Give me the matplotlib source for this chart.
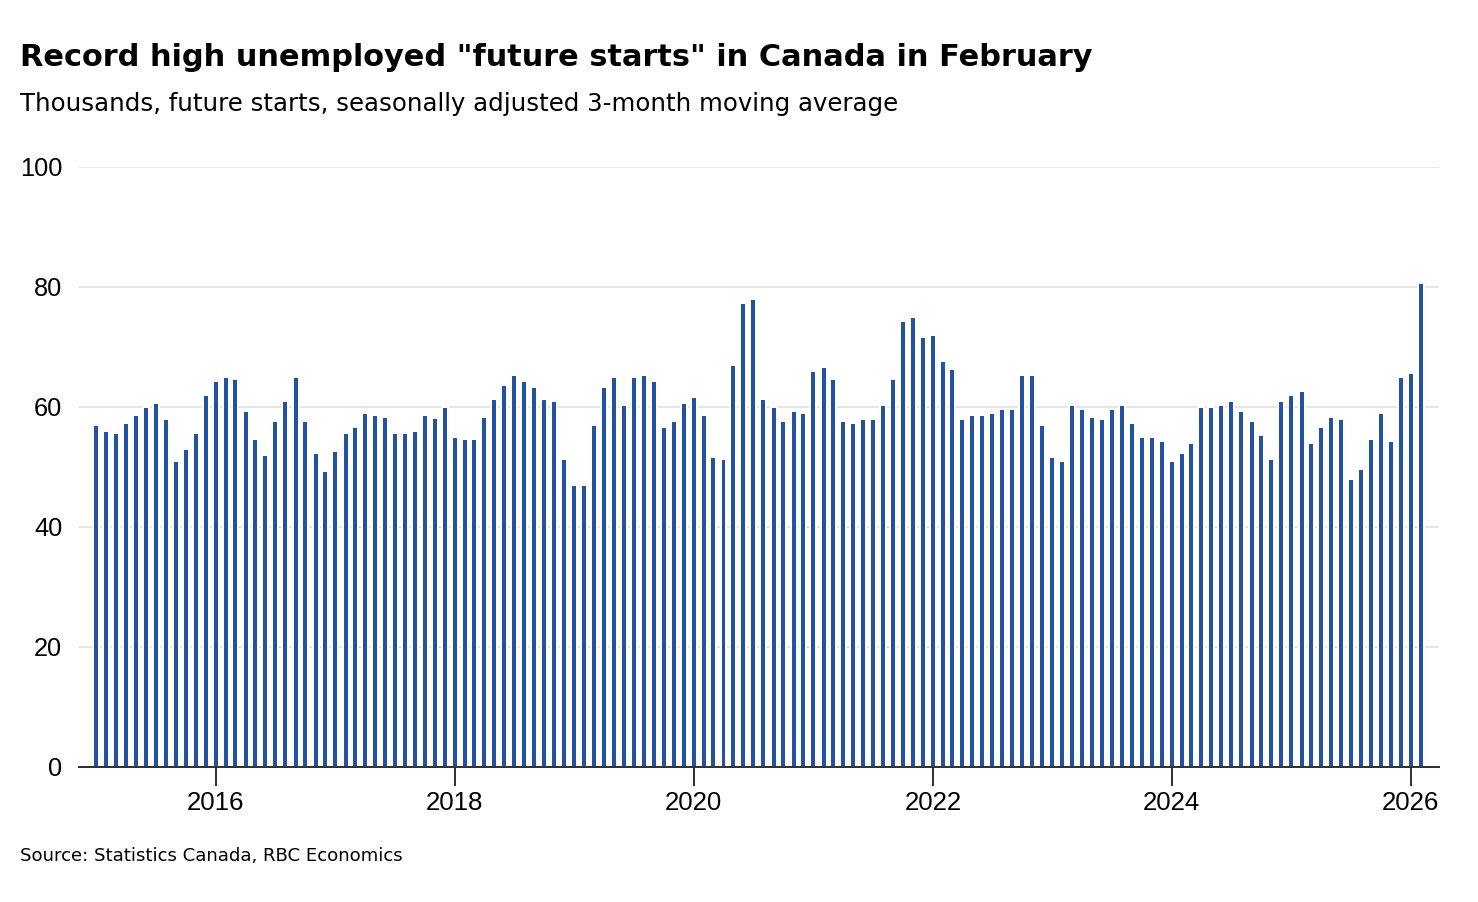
import matplotlib
matplotlib.use("Agg")
import matplotlib.pyplot as plt
import matplotlib.dates as mdates
import pandas as pd

plt.rcParams["font.family"] = ["Liberation Sans", "DejaVu Sans"]

# monthly, Jan 2015 .. Feb 2026 (thousands, 3-month moving average)
months = pd.date_range("2015-01-01", "2026-02-01", freq="MS")
future_starts = [
    # 2015
    56.8, 55.8, 55.4, 57.1, 58.4, 59.8, 60.4, 57.8, 50.8, 52.8, 55.4, 61.8,
    # 2016
    64.1, 64.8, 64.4, 59.1, 54.4, 51.8, 57.4, 60.8, 64.8, 57.4, 52.1, 49.1,
    # 2017
    52.4, 55.4, 56.4, 58.8, 58.4, 58.1, 55.4, 55.4, 55.8, 58.4, 58.0, 59.8,
    # 2018
    54.8, 54.4, 54.4, 58.1, 61.1, 63.4, 65.1, 64.1, 63.1, 61.1, 60.8, 51.1,
    # 2019
    46.8, 46.8, 56.8, 63.1, 64.8, 60.1, 64.8, 65.1, 64.1, 56.4, 57.4, 60.4,
    # 2020
    61.4, 58.4, 51.4, 51.1, 66.8, 77.1, 77.8, 61.1, 59.8, 57.4, 59.1, 58.8,
    # 2021
    65.8, 66.4, 64.4, 57.4, 57.1, 57.8, 57.8, 60.1, 64.4, 74.1, 74.8, 71.4,
    # 2022
    71.8, 67.4, 66.1, 57.8, 58.4, 58.4, 58.8, 59.4, 59.4, 65.1, 65.1, 56.8,
    # 2023
    51.4, 50.8, 60.1, 59.4, 58.1, 57.8, 59.4, 60.1, 57.1, 54.8, 54.8, 54.1,
    # 2024
    50.8, 52.1, 53.8, 59.8, 59.8, 60.1, 60.8, 59.1, 57.4, 55.1, 51.1, 60.8,
    # 2025
    61.8, 62.4, 53.8, 56.4, 58.1, 57.8, 47.8, 49.4, 54.4, 58.8, 54.1, 64.8,
    # 2026
    65.4, 80.4,
]
y_ticks = [0, 20, 40, 60, 80, 100]

title = 'Record high unemployed "future starts" in Canada in February'
subtitle = "Thousands, future starts, seasonally adjusted 3-month moving average"
source = "Source: Statistics Canada, RBC Economics"

bar_color = "#2152A4"
dark = "#333333"

fig = plt.figure(figsize=(14.78, 9.02), dpi=100)
ax = fig.add_axes([79 / 1478, 135.3 / 902, 1360 / 1478, 600 / 902])

# white halo behind each bar (breaks the gridlines), then the bar itself
ax.bar(months, future_starts, width=12.2, color="white", edgecolor="white",
       linewidth=2.9, zorder=2)
ax.bar(months, future_starts, width=12.2, color=bar_color, linewidth=0, zorder=3)

ax.set_ylim(0, 100)
ax.set_yticks(y_ticks)
ax.set_xlim(pd.Timestamp("2014-11-09"), pd.Timestamp("2026-03-28"))
ax.xaxis.set_major_locator(mdates.YearLocator(2))
ax.xaxis.set_major_formatter(mdates.DateFormatter("%Y"))

ax.grid(axis="y", color="#e6e6e6", linewidth=1.45, zorder=1)
ax.set_axisbelow(True)
for side in ["top", "right", "left"]:
    ax.spines[side].set_visible(False)
ax.spines["bottom"].set_color(dark)
ax.spines["bottom"].set_linewidth(1.45)
ax.spines["bottom"].set_zorder(5)

ax.tick_params(axis="x", length=13.5, width=1.45, color=dark, labelsize=18.6, pad=4)
ax.tick_params(axis="y", length=0, labelsize=18.3, pad=12)

# the source figure uses a wider face than Arial; DejaVu matches its text widths
text_font = ["DejaVu Sans"]
fig.text(20 / 1478, 1 - 66 / 902, title, fontsize=21.9, fontweight="bold",
         family=text_font, ha="left", va="baseline")
fig.text(20 / 1478, 1 - 111.5 / 902, subtitle, fontsize=17.6, family=text_font,
         ha="left", va="baseline")
fig.text(20 / 1478, 1 - 861 / 902, source, fontsize=13.1, family=text_font,
         ha="left", va="baseline")

fig.savefig("out.png", dpi=100, facecolor="white")
